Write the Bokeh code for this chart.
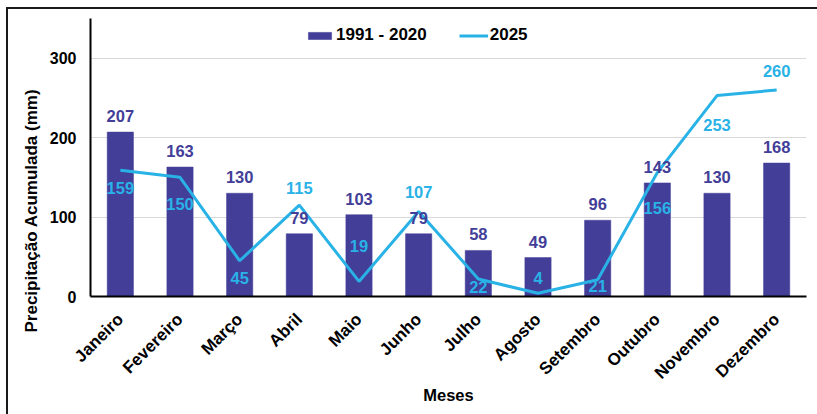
import math
from bokeh.plotting import figure
from bokeh.models import (ColumnDataSource, FactorRange, Range1d, FixedTicker,
                          Legend, LegendItem, Title)
from bokeh.core.properties import value
from bokeh.embed import file_html
from bokeh.resources import INLINE

# ---- data ----
months = ["Janeiro", "Fevereiro", "Março", "Abril", "Maio", "Junho", "Julho",
          "Agosto", "Setembro", "Outubro", "Novembro", "Dezembro"]
normal_1991_2020 = [207, 163, 130, 79, 103, 79, 58, 49, 96, 143, 130, 168]
year_2025 = [159, 150, 45, 115, 19, 107, 22, 4, 21, 156, 253, 260]
y_ticks = [0, 100, 200, 300]
series_names = ["1991 - 2020", "2025"]

# ---- styles ----
BAR_COLOR = "#433E98"
LINE_COLOR = "#29B2E6"
FONT = "Liberation Sans"
# label placement for the 2025 series (pixels, positive = below the point)
line_label_dy = [18, 27, 17, -17, -35, -20, 8, -15, 6, 35, 29, -19]

src = ColumnDataSource(dict(
    month=months,
    normal=normal_1991_2020,
    y2025=year_2025,
    normal_txt=[str(v) for v in normal_1991_2020],
    y2025_txt=[str(v) for v in year_2025],
    dy=line_label_dy,
))

p = figure(width=817, height=414, x_range=FactorRange(*months),
           y_range=Range1d(0, 350), output_backend="svg",
           toolbar_location=None, min_border_left=90, min_border_right=11,
           min_border_top=18, min_border_bottom=118)
p.outline_line_color = None
p.background_fill_color = "white"
p.border_fill_color = None
# chart border (left and top edges, as in the original picture)
p.styles = {
    "background": ("linear-gradient(#1a1a1a,#1a1a1a) 6px 7px / 2px 100% no-repeat, "
                   "linear-gradient(#1a1a1a,#1a1a1a) 6px 7px / 100% 2px no-repeat, "
                   "#ffffff"),
}

bars = p.vbar(x="month", top="normal", width=0.44, source=src,
              fill_color=BAR_COLOR, line_color=BAR_COLOR, line_width=0.5)
line = p.line(x="month", y="y2025", source=src, line_color=LINE_COLOR,
              line_width=3)

p.text(x="month", y="normal", text="normal_txt", source=src,
       text_align="center", text_baseline="middle", y_offset=-16,
       text_font=value(FONT), text_font_style="bold",
       text_font_size="16.5px", text_color=BAR_COLOR)
p.text(x="month", y="y2025", text="y2025_txt", source=src,
       text_align="center", text_baseline="middle", y_offset="dy",
       text_font=value(FONT), text_font_style="bold",
       text_font_size="16.5px", text_color=LINE_COLOR)

# axes
p.yaxis.ticker = FixedTicker(ticks=y_ticks)
p.yaxis.major_tick_line_color = None
p.yaxis.minor_tick_line_color = None
p.yaxis.axis_line_color = "black"
p.yaxis.axis_line_width = 2
p.yaxis.major_label_text_font = FONT
p.yaxis.major_label_text_font_style = "bold"
p.yaxis.major_label_text_font_size = "16px"
p.yaxis.major_label_text_color = "black"
p.yaxis.major_label_standoff = 8

p.xaxis.major_tick_line_color = None
p.xaxis.minor_tick_line_color = None
p.xaxis.axis_line_color = "black"
p.xaxis.axis_line_width = 2
p.xaxis.major_label_orientation = math.pi / 4
p.xaxis.major_label_text_font = FONT
p.xaxis.major_label_text_font_style = "bold"
p.xaxis.major_label_text_font_size = "17px"
p.xaxis.major_label_text_color = "black"
p.xaxis.major_label_standoff = 14
p.xaxis.axis_label = "Meses"
p.xaxis.axis_label_text_font = FONT
p.xaxis.axis_label_text_font_style = "bold"
p.xaxis.axis_label_text_font_size = "16.5px"
p.xaxis.axis_label_text_color = "black"
p.xaxis.axis_label_standoff = -6

p.xgrid.grid_line_color = None
p.ygrid.grid_line_color = "#D9D9D9"
p.ygrid.grid_line_width = 1

# y axis title
p.add_layout(Title(text="Precipitação Acumulada (mm)", align="left",
                   vertical_align="middle", offset=-36,
                   text_font=FONT, text_font_style="bold",
                   text_font_size="17px", text_color="black",
                   standoff=10), "left")

legend = Legend(items=[LegendItem(label=series_names[0], renderers=[bars]),
                       LegendItem(label=series_names[1], renderers=[line])],
                orientation="horizontal", location=(215, 251),
                glyph_width=29, glyph_height=9, label_standoff=2,
                spacing=32, padding=0, margin=0,
                border_line_color=None, background_fill_alpha=0,
                label_text_font=FONT, label_text_font_style="bold",
                label_text_font_size="17px", label_text_color="black")
p.add_layout(legend, "center")

open("out.html", "w").write(file_html(p, INLINE))
